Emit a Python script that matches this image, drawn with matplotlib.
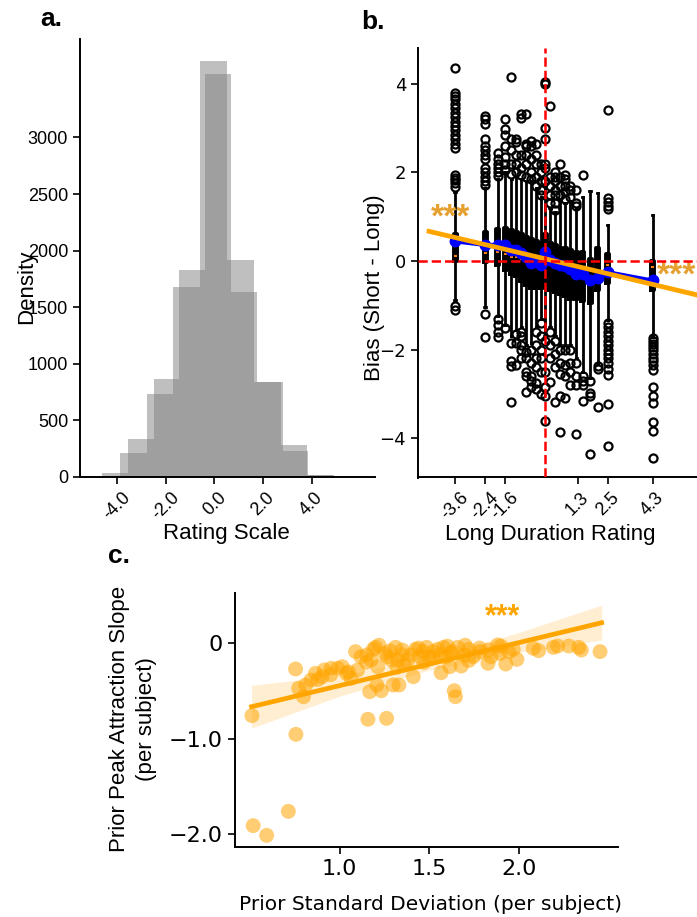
import matplotlib
matplotlib.use("Agg")
import matplotlib.pyplot as plt

plt.rcParams['font.family'] = ['Liberation Sans', 'DejaVu Sans']

# ---- panel a: two rating histograms (bin edges + counts)
hist1_edges = [-4.99, -3.89, -2.77, -1.70, -0.60, 0.50, 1.63, 2.72, 3.79, 4.89]
hist1_counts = [12, 212, 734, 1680, 3677, 1918, 840, 283, 18]
hist2_edges = [-4.62, -3.55, -2.49, -1.45, -0.39, 0.67, 1.74, 2.81, 3.84, 4.92]
hist2_counts = [38, 336, 866, 1830, 3565, 1635, 835, 230, 15]

# ---- panel b: bias per long-duration rating (box stats)
b_pos = [-3.6, -2.4, -1.9, -1.6, -1.35, -1.15, -0.95, -0.75, -0.55, -0.35, -0.15, 0.0,
         0.2, 0.4, 0.6, 0.8, 1.0, 1.25, 1.5, 1.8, 2.1, 2.5, 4.3]
b_q1 = [0.0, -0.02, -0.1, -0.2, -0.3, -0.35, -0.45, -0.55, -0.6, -0.6, -0.6, -0.55,
        -0.65, -0.7, -0.75, -0.8, -0.85, -0.85, -0.9, -0.95, -0.65, -0.5, -0.65]
b_q3 = [0.62, 0.65, 0.72, 0.75, 0.7, 0.65, 0.6, 0.55, 0.5, 0.45, 0.4, 0.6,
        0.4, 0.35, 0.3, 0.3, 0.25, 0.2, 0.2, 0.05, 0.3, 0.15, 0.0]
b_med = [0.12, 0.17, 0.2, 0.15, 0.1, 0.1, 0.05, 0.0, -0.05, -0.05, -0.1, 0.05,
         -0.1, -0.1, -0.15, -0.15, -0.2, -0.25, -0.3, -0.4, -0.3, -0.1, -0.13]
b_wlo = [-0.88, -1.05, -1.25, -1.45, -1.7, -1.55, -1.5, -1.9, -1.85, -1.5, -1.3, -1.7,
         -1.5, -1.7, -1.9, -1.9, -1.9, -2.2, -2.5, -2.65, -2.3, -1.33, -1.71]
b_whi = [1.55, 1.65, 1.85, 2.0, 1.85, 1.9, 1.85, 1.8, 1.8, 1.65, 1.45, 1.7,
         1.2, 1.1, 1.4, 1.3, 1.35, 1.2, 1.45, 1.57, 1.53, 0.81, 1.04]
b_fliers = [
    [4.36, 3.80, 3.72, 3.65, 3.55, 3.45, 3.35, 3.25, 3.15, 3.05, 2.95, 2.85, 2.75, 2.65,
     2.55, 1.94, 1.88, 1.82, 1.75, 1.68, -1.02, -1.1],
    [3.27, 3.2, 3.1, 2.75, 2.6, 2.5, 2.4, 2.3, 2.1, 2.0, 1.9, 1.8, 1.72, -1.2, -1.72],
    [2.43, 2.3, 2.2, 2.1, 2.0, 1.92, -1.32, -1.45, -1.6, -1.72],
    [3.2, 2.99, 2.84, 2.6, 2.35, 2.2, 2.05, -1.52],
    [4.16, 2.75, 2.5, 2.18, 1.97, -1.85, -2.25, -2.37, -3.18],
    [2.75, 2.68, 2.4, 2.2, 2.0, -1.65, -1.85, -2.35],
    [3.31, 3.23, 2.4, 2.1, 1.95, -1.61, -1.7, -1.9, -2.0, -2.2],
    [3.31, 2.65, 2.6, 2.4, 2.2, 1.9, -2.05, -2.2, -2.5, -2.6, -2.97],
    [2.7, 2.6, 2.3, 2.0, 1.85, -2.0, -2.3, -2.6, -2.7, -2.85],
    [2.65, 2.4, 2.2, 1.9, 1.7, -1.6, -1.9, -2.2, -2.4, -2.75, -2.9],
    [2.2, 2.0, 1.8, 1.6, 1.5, -1.4, -1.7, -2.0, -2.2, -2.5, -3.0],
    [4.05, 4.0, 3.0, 2.75, 2.2, 2.1, 1.8, -1.8, -2.5, -2.85, -3.05, -3.62],
    [3.51, 1.9, 1.7, 1.5, 1.3, -1.6, -1.9, -2.2, -2.73],
    [2.0, 1.9, 1.8, 1.6, 1.5, 1.3, 1.15, -1.8, -2.1, -2.4, -3.18],
    [2.18, 1.9, 1.7, 1.5, -2.0, -2.3, -2.55, -3.05, -3.86],
    [1.95, 1.85, 1.7, 1.55, 1.4, -2.0, -2.35, -2.6, -3.1],
    [1.7, 1.6, 1.45, -2.0, -2.3, -2.5, -2.8],
    [1.6, 1.3, 1.25, -2.3, -2.6, -2.8, -3.9],
    [1.94, -2.6, -2.7, -2.8, -3.17],
    [-2.72, -2.98, -3.06, -4.35],
    [-2.38, -2.45, -3.3],
    [3.41, 1.42, 1.33, 1.25, 1.17, -1.4, -1.5, -1.6, -1.7, -1.8, -1.9, -2.0, -2.1, -2.19,
     -2.3, -2.45, -2.57, -3.22, -4.17],
    [-1.74, -1.8, -1.88, -1.95, -2.02, -2.1, -2.18, -2.26, -2.35, -2.46, -2.84, -3.06,
     -3.21, -3.63, -3.85, -4.45],
]
b_means = [0.44, 0.36, 0.37, 0.36, 0.25, 0.24, 0.17, 0.1, -0.05, 0.02, -0.1, 0.2,
           0.02, -0.05, -0.09, -0.12, -0.17, -0.3, -0.3, -0.43, -0.38, -0.25, -0.44]
b_ticks = [-3.6, -2.4, -1.6, 1.3, 2.5, 4.3]
b_ticklabels = ['-3.6', '-2.4', '-1.6', '1.3', '2.5', '4.3']
b_reg_x = [-4.64, 0.0, 6.1]
b_reg_y = [0.67, 0.05, -0.77]
b_reg_lo = [0.62, 0.03, -0.83]
b_reg_hi = [0.72, 0.07, -0.71]

# ---- panel c: per-subject slope vs prior SD
c_sd = [0.512, 0.519, 0.594, 0.715, 0.755, 0.757, 0.772, 0.799, 0.811, 0.841, 0.866, 0.903,
        0.915, 0.953, 0.990, 1.015, 1.039, 1.064, 1.089, 1.101, 1.119, 1.151, 1.158, 1.168,
        1.176, 1.188, 1.200, 1.208, 1.213, 1.233, 1.250, 1.262, 1.267, 1.287, 1.299, 1.312,
        1.324, 1.331, 1.349, 1.361, 1.398, 1.411, 1.423, 1.448, 1.465, 1.485, 1.497, 1.522,
        1.547, 1.566, 1.579, 1.596, 1.614, 1.628, 1.639, 1.646, 1.658, 1.678, 1.696, 1.720,
        1.745, 1.782, 1.827, 1.844, 1.881, 1.894, 1.926, 1.943, 1.968, 1.988, 2.079, 2.109,
        2.191, 2.215, 2.277, 2.332, 2.347, 2.451, 1.22, 1.35, 1.44, 1.52, 1.60, 1.72, 1.78,
        1.90, 1.38, 1.28, 1.15, 1.05, 0.95, 0.88, 1.62, 1.70, 1.83, 1.56, 1.47, 1.32]
c_slope = [-0.759, -1.913, -2.015, -1.763, -0.269, -0.955, -0.472, -0.560, -0.437, -0.385,
           -0.315, -0.350, -0.280, -0.262, -0.262, -0.245, -0.315, -0.367, -0.087, -0.280,
           -0.140, -0.122, -0.797, -0.507, -0.175, -0.063, -0.042, -0.437, -0.245, -0.497,
           -0.105, -0.787, -0.140, -0.175, -0.437, -0.042, -0.175, -0.437, -0.070, -0.227,
           -0.122, -0.350, -0.063, -0.140, -0.087, -0.042, -0.140, -0.087, -0.063, -0.308,
           -0.042, -0.140, -0.245, -0.087, -0.497, -0.560, -0.042, -0.238, -0.122, -0.063,
           -0.140, -0.087, -0.210, -0.140, -0.017, -0.105, -0.217, -0.087, -0.063, -0.168,
           -0.052, -0.077, -0.042, -0.028, -0.028, -0.042, -0.070, -0.087, -0.02, -0.12,
           -0.05, -0.15, -0.03, -0.18, -0.05, -0.03, -0.18, -0.08, -0.20, -0.30, -0.33,
           -0.38, -0.10, -0.02, -0.07, -0.12, -0.20, -0.25]
c_reg_x = [0.51, 1.0, 1.5, 2.0, 2.46]
c_reg_y = [-0.665, -0.444, -0.218, 0.008, 0.216]
c_reg_lo = [-0.89, -0.555, -0.28, -0.095, 0.035]
c_reg_hi = [-0.44, -0.335, -0.16, 0.115, 0.40]

W, H = 697, 917
fig = plt.figure(figsize=(W / 100, H / 100), dpi=100)

def box(l, t, r, b):
    return [l / W, 1 - b / H, (r - l) / W, (b - t) / H]

def clean(ax):
    ax.spines['top'].set_visible(False)
    ax.spines['right'].set_visible(False)
    for s in ('left', 'bottom'):
        ax.spines[s].set_linewidth(1.4)
    ax.tick_params(width=1.2, length=5, labelsize=13)

# ---------------- a
ax = fig.add_axes(box(80, 39, 375, 477))
ax.hist(hist1_edges[:-1], bins=hist1_edges, weights=hist1_counts, color='gray', alpha=0.5)
ax.hist(hist2_edges[:-1], bins=hist2_edges, weights=hist2_counts, color='gray', alpha=0.5)
ax.set_xlim(-5.53, 6.6)
ax.set_ylim(0, 3870)
ax.set_yticks([0, 500, 1000, 1500, 2000, 2500, 3000])
ax.set_xticks([-4, -2, 0, 2, 4])
ax.set_xticklabels(['-4.0', '-2.0', '0.0', '2.0', '4.0'], rotation=45)
clean(ax)
ax.set_ylabel('Density', fontsize=16)
ax.yaxis.set_label_coords(-0.147, 0.434)
ax.set_xlabel('Rating Scale', fontsize=16)
ax.xaxis.set_label_coords(0.497, -0.105)

# ---------------- b
ax = fig.add_axes(box(418, 48, 697, 477.5))
stats = []
for i in range(len(b_pos)):
    stats.append(dict(med=b_med[i], q1=b_q1[i], q3=b_q3[i], whislo=b_wlo[i],
                      whishi=b_whi[i], fliers=b_fliers[i]))
ax.bxp(stats, positions=b_pos, widths=0.12, manage_ticks=False,
       boxprops=dict(color='black', linewidth=2.8),
       whiskerprops=dict(color='black', linewidth=2.0),
       capprops=dict(color='black', linewidth=2.0),
       medianprops=dict(color='C1', linewidth=1.5),
       flierprops=dict(marker='o', markerfacecolor='none', markeredgecolor='black',
                       markersize=5.8, markeredgewidth=1.6),
       zorder=2)
ax.plot(b_pos, b_means, 'o-', color='blue', lw=2.8, ms=7.5, zorder=3)
ax.fill_between(b_reg_x, b_reg_lo, b_reg_hi, color='orange', alpha=0.2, lw=0, zorder=4)
ax.plot(b_reg_x, b_reg_y, color='orange', lw=3.4, zorder=4)
ax.axvline(0, color='red', ls='--', lw=1.8, zorder=5)
ax.axhline(0, color='red', ls='--', lw=1.8, zorder=5)
ax.text(-3.77, 0.98, '***', color='#E5A030', fontsize=24, fontweight='bold',
        ha='center', va='center')
ax.text(4.48, -0.33, '***', color='#E5A030', fontsize=24, fontweight='bold',
        ha='left', va='center', clip_on=False)
ax.set_xlim(-5.08, 6.07)
ax.set_ylim(-4.89, 4.81)
ax.set_yticks([-4, -2, 0, 2, 4])
for lab in ax.get_yticklabels():
    lab.set_family('DejaVu Sans')
ax.set_xticks(b_ticks)
ax.set_xticklabels(b_ticklabels, rotation=45)
clean(ax)
ax.set_ylabel('Bias (Short - Long)', fontsize=16)
ax.yaxis.set_label_coords(-0.119, 0.443)
ax.set_xlabel('Long Duration Rating', fontsize=16)
ax.xaxis.set_label_coords(0.475, -0.108)

# ---------------- c
ax = fig.add_axes(box(234.7, 593.3, 617.8, 846.7))
ax.fill_between(c_reg_x, c_reg_lo, c_reg_hi, color='orange', alpha=0.18, lw=0)
ax.scatter(c_sd, c_slope, s=115, color='orange', alpha=0.55, edgecolors='none')
ax.plot(c_reg_x, c_reg_y, color='orange', lw=3.4)
ax.text(1.91, 0.27, '***', color='orange', fontsize=22, fontweight='bold',
        ha='center', va='center')
ax.set_xlim(0.416, 2.55)
ax.set_ylim(-2.134, 0.525)
ax.set_xticks([1.0, 1.5, 2.0])
ax.set_xticklabels(['1.0', '1.5', '2.0'])
ax.set_yticks([0, -1, -2])
ax.set_yticklabels(['0', '\u22121.0', '\u22122.0'])
clean(ax)
ax.tick_params(labelsize=16)
for lab in ax.get_xticklabels() + ax.get_yticklabels():
    lab.set_family('DejaVu Sans')
ax.set_ylabel('Prior Peak Attraction Slope\n(per subject)', fontsize=16, linespacing=1.35)
ax.yaxis.set_label_coords(-0.204, 0.504)
ax.set_xlabel('Prior Standard Deviation (per subject)', fontsize=14.5, family='DejaVu Sans')
ax.xaxis.set_label_coords(0.51, -0.19)

# panel letters
fig.text(40 / W, 1 - 25.5 / H, 'a.', fontsize=19, fontweight='bold', va='baseline')
fig.text(361.7 / W, 1 - 28.6 / H, 'b.', fontsize=19, fontweight='bold', va='baseline')
fig.text(108 / W, 1 - 563 / H, 'c.', fontsize=19, fontweight='bold', va='baseline')

fig.savefig('out.png', dpi=100)
